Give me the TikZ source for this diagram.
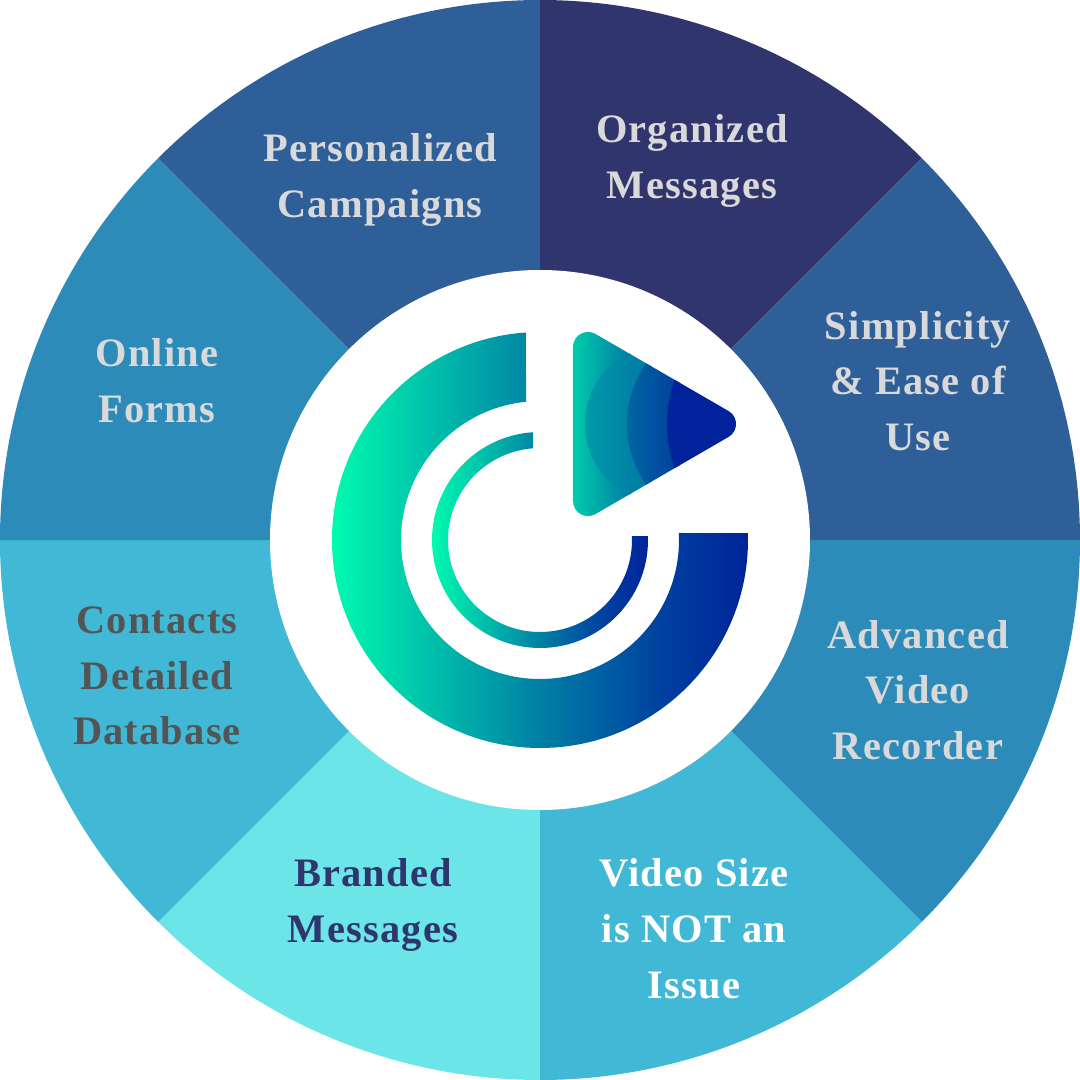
\documentclass[tikz,border=0pt]{standalone}
\usepackage{fontspec}
\newfontfamily\labfont[LetterSpace=3]{Liberation Serif}
\definecolor{cNavy}{HTML}{31356E}
\definecolor{cSteel}{HTML}{2F5F98}
\definecolor{cBlue}{HTML}{2D8BBA}
\definecolor{cSky}{HTML}{41B8D5}
\definecolor{cAqua}{HTML}{6CE5E8}
\definecolor{cLight}{HTML}{D9D9D9}
\definecolor{cGrey}{HTML}{545454}
\definecolor{gLeft}{HTML}{00FFB0}
\definecolor{gMid}{HTML}{0080A5}
\definecolor{gLate}{HTML}{0042A0}
\definecolor{gRight}{HTML}{00229A}
\pgfdeclarehorizontalshading{logograd}{100bp}{color(0bp)=(gLeft); color(25bp)=(gLeft); color(50bp)=(gMid); color(64bp)=(gLate); color(75bp)=(gRight); color(100bp)=(gRight)}
\tikzset{
  lab/.style={align=center,font=\labfont\bfseries\fontsize{23}{31.75}\selectfont,inner sep=0pt,text=cLight},
  gradfill/.style={shading=logograd,draw=none},
  wedgefill/.style={draw=none}
}
\begin{document}
\begin{tikzpicture}[x=0.02cm,y=0.02cm]
\useasboundingbox (-540,-540) rectangle (540,540);
% wedges, clockwise from the top
\foreach \a/\c in {90/cNavy,45/cSteel,0/cBlue,-45/cSky,-90/cAqua,-135/cSky,-180/cBlue,-225/cSteel}{
  \fill[\c,wedgefill] (0,0) -- (\a:540) arc[start angle=\a,delta angle=-45,radius=540] -- cycle;
}
\fill[white] (0,0) circle[radius=270];
% big C
\shade[gradfill] (93.86:208) arc[start angle=93.86,end angle=361.93,radius=208]
  -- (362.89:139) arc[start angle=362.89,end angle=95.78,radius=139] -- cycle;
% small C
\shade[gradfill] (93.72:108) arc[start angle=93.72,end angle=362.12,radius=108]
  -- (362.49:92) arc[start angle=362.49,end angle=94.37,radius=92] -- cycle;
% play triangle
\begin{scope}
  \clip (33,193) arc[start angle=180,end angle=60,radius=15] -- (188.5,129)
    arc[start angle=60,end angle=-60,radius=15] -- (55.5,26)
    arc[start angle=-60,end angle=-180,radius=15] -- cycle;
  \shade[left color=gLeft!60!gMid,right color=gMid!92!gRight] (33,225) rectangle (92,5);
  \begin{scope}
    \clip (124.5,116) circle[radius=79.5];
    \shade[left color=gMid!80!gLeft,right color=gMid!90!gRight] (45,225) rectangle (112,5);
  \end{scope}
  \begin{scope}
    \clip (192,116) circle[radius=105];
    \shade[left color=gMid!72!gRight,right color=gMid!30!gRight] (87,225) rectangle (140,5);
  \end{scope}
  \begin{scope}
    \clip (256,116) circle[radius=129];
    \fill[gRight] (127,225) rectangle (200,5);
  \end{scope}
\end{scope}
% labels
\node[lab] (organized) at (152,379) {Organized\\Messages};
\node[lab] (personalized) at (-160,360) {Personalized\\Campaigns};
\node[lab] (simplicity) at (378,159) {Simplicity\\\& Ease of\\Use};
\node[lab] (online) at (-383,159) {Online\\Forms};
\node[lab] (advanced) at (378,-150) {Advanced\\Video\\Recorder};
\node[lab,text=white] (videosize) at (154,-389) {Video Size\\is NOT an\\Issue};
\node[lab,text=cNavy] (branded) at (-167,-365) {Branded\\Messages};
\node[lab,text=cGrey] (contacts) at (-383,-136) {Contacts\\Detailed\\Database};
\end{tikzpicture}
\end{document}
